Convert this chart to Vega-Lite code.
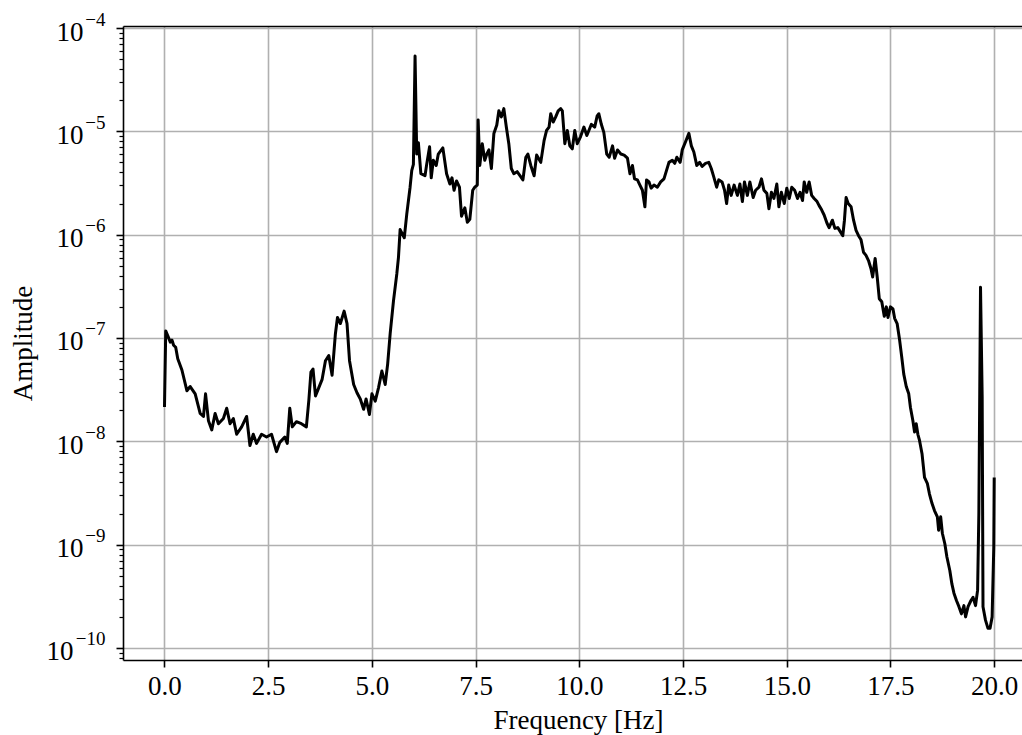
{
  "$schema": "https://vega.github.io/schema/vega-lite/v6.json",
  "width": 899,
  "height": 634,
  "autosize": {"type": "none"},
  "padding": {"left": 123, "top": 26, "right": 0, "bottom": 75},
  "background": "white",
  "config": {
    "view": {"stroke": null},
    "axis": {
      "labelFont": "Liberation Serif",
      "titleFont": "Liberation Serif",
      "labelColor": "black",
      "titleColor": "black",
      "domainColor": "black",
      "tickColor": "black",
      "titleFontWeight": "normal",
      "gridColor": "#b0b0b0",
      "gridWidth": 1.6,
      "gridOpacity": 1,
      "domainWidth": 1.6,
      "tickWidth": 1.6
    }
  },
  "data": {
    "values": [
      {"frequency": 0.00, "amplitude": 2.15e-8},
      {"frequency": 0.03, "amplitude": 1.17e-7},
      {"frequency": 0.08, "amplitude": 1.05e-7},
      {"frequency": 0.14, "amplitude": 9.12e-8},
      {"frequency": 0.18, "amplitude": 9.55e-8},
      {"frequency": 0.22, "amplitude": 8.51e-8},
      {"frequency": 0.27, "amplitude": 8.13e-8},
      {"frequency": 0.32, "amplitude": 6.31e-8},
      {"frequency": 0.42, "amplitude": 4.90e-8},
      {"frequency": 0.54, "amplitude": 3.09e-8},
      {"frequency": 0.62, "amplitude": 3.39e-8},
      {"frequency": 0.74, "amplitude": 2.88e-8},
      {"frequency": 0.86, "amplitude": 1.86e-8},
      {"frequency": 0.94, "amplitude": 1.74e-8},
      {"frequency": 0.99, "amplitude": 2.88e-8},
      {"frequency": 1.06, "amplitude": 1.58e-8},
      {"frequency": 1.14, "amplitude": 1.29e-8},
      {"frequency": 1.22, "amplitude": 1.86e-8},
      {"frequency": 1.30, "amplitude": 1.48e-8},
      {"frequency": 1.42, "amplitude": 1.66e-8},
      {"frequency": 1.50, "amplitude": 2.09e-8},
      {"frequency": 1.58, "amplitude": 1.48e-8},
      {"frequency": 1.66, "amplitude": 1.66e-8},
      {"frequency": 1.74, "amplitude": 1.17e-8},
      {"frequency": 1.86, "amplitude": 1.38e-8},
      {"frequency": 1.98, "amplitude": 1.74e-8},
      {"frequency": 2.06, "amplitude": 9.12e-9},
      {"frequency": 2.14, "amplitude": 1.17e-8},
      {"frequency": 2.22, "amplitude": 9.55e-9},
      {"frequency": 2.34, "amplitude": 1.17e-8},
      {"frequency": 2.46, "amplitude": 1.10e-8},
      {"frequency": 2.58, "amplitude": 1.17e-8},
      {"frequency": 2.70, "amplitude": 7.94e-9},
      {"frequency": 2.78, "amplitude": 9.77e-9},
      {"frequency": 2.90, "amplitude": 1.10e-8},
      {"frequency": 2.96, "amplitude": 9.55e-9},
      {"frequency": 3.02, "amplitude": 2.09e-8},
      {"frequency": 3.08, "amplitude": 1.38e-8},
      {"frequency": 3.18, "amplitude": 1.55e-8},
      {"frequency": 3.30, "amplitude": 1.48e-8},
      {"frequency": 3.42, "amplitude": 1.38e-8},
      {"frequency": 3.48, "amplitude": 2.51e-8},
      {"frequency": 3.53, "amplitude": 4.68e-8},
      {"frequency": 3.58, "amplitude": 5.01e-8},
      {"frequency": 3.64, "amplitude": 2.75e-8},
      {"frequency": 3.72, "amplitude": 3.31e-8},
      {"frequency": 3.80, "amplitude": 3.98e-8},
      {"frequency": 3.88, "amplitude": 6.03e-8},
      {"frequency": 3.96, "amplitude": 6.76e-8},
      {"frequency": 4.04, "amplitude": 4.37e-8},
      {"frequency": 4.12, "amplitude": 1.10e-7},
      {"frequency": 4.17, "amplitude": 1.58e-7},
      {"frequency": 4.24, "amplitude": 1.38e-7},
      {"frequency": 4.33, "amplitude": 1.82e-7},
      {"frequency": 4.40, "amplitude": 1.38e-7},
      {"frequency": 4.46, "amplitude": 6.03e-8},
      {"frequency": 4.56, "amplitude": 3.55e-8},
      {"frequency": 4.64, "amplitude": 2.95e-8},
      {"frequency": 4.72, "amplitude": 2.57e-8},
      {"frequency": 4.80, "amplitude": 2.04e-8},
      {"frequency": 4.86, "amplitude": 2.57e-8},
      {"frequency": 4.94, "amplitude": 1.82e-8},
      {"frequency": 5.00, "amplitude": 2.88e-8},
      {"frequency": 5.08, "amplitude": 2.45e-8},
      {"frequency": 5.16, "amplitude": 3.31e-8},
      {"frequency": 5.24, "amplitude": 4.79e-8},
      {"frequency": 5.32, "amplitude": 3.55e-8},
      {"frequency": 5.38, "amplitude": 5.62e-8},
      {"frequency": 5.44, "amplitude": 1.10e-7},
      {"frequency": 5.52, "amplitude": 2.29e-7},
      {"frequency": 5.60, "amplitude": 4.17e-7},
      {"frequency": 5.64, "amplitude": 6.03e-7},
      {"frequency": 5.68, "amplitude": 1.12e-6},
      {"frequency": 5.78, "amplitude": 9.33e-7},
      {"frequency": 5.84, "amplitude": 1.58e-6},
      {"frequency": 5.92, "amplitude": 2.88e-6},
      {"frequency": 5.96, "amplitude": 4.17e-6},
      {"frequency": 6.00, "amplitude": 4.79e-6},
      {"frequency": 6.04, "amplitude": 5.37e-5},
      {"frequency": 6.08, "amplitude": 6.03e-6},
      {"frequency": 6.12, "amplitude": 7.76e-6},
      {"frequency": 6.18, "amplitude": 3.89e-6},
      {"frequency": 6.28, "amplitude": 3.72e-6},
      {"frequency": 6.32, "amplitude": 4.79e-6},
      {"frequency": 6.39, "amplitude": 7.08e-6},
      {"frequency": 6.43, "amplitude": 3.55e-6},
      {"frequency": 6.48, "amplitude": 5.25e-6},
      {"frequency": 6.55, "amplitude": 4.68e-6},
      {"frequency": 6.60, "amplitude": 6.03e-6},
      {"frequency": 6.71, "amplitude": 6.92e-6},
      {"frequency": 6.80, "amplitude": 3.89e-6},
      {"frequency": 6.88, "amplitude": 3.09e-6},
      {"frequency": 6.93, "amplitude": 3.55e-6},
      {"frequency": 6.98, "amplitude": 2.69e-6},
      {"frequency": 7.04, "amplitude": 3.31e-6},
      {"frequency": 7.11, "amplitude": 2.88e-6},
      {"frequency": 7.16, "amplitude": 1.51e-6},
      {"frequency": 7.24, "amplitude": 1.82e-6},
      {"frequency": 7.30, "amplitude": 1.32e-6},
      {"frequency": 7.36, "amplitude": 1.41e-6},
      {"frequency": 7.43, "amplitude": 2.69e-6},
      {"frequency": 7.48, "amplitude": 2.88e-6},
      {"frequency": 7.54, "amplitude": 3.02e-6},
      {"frequency": 7.56, "amplitude": 1.29e-5},
      {"frequency": 7.60, "amplitude": 4.68e-6},
      {"frequency": 7.66, "amplitude": 7.59e-6},
      {"frequency": 7.72, "amplitude": 5.25e-6},
      {"frequency": 7.77, "amplitude": 6.03e-6},
      {"frequency": 7.82, "amplitude": 6.61e-6},
      {"frequency": 7.88, "amplitude": 4.37e-6},
      {"frequency": 7.94, "amplitude": 9.55e-6},
      {"frequency": 8.01, "amplitude": 1.15e-5},
      {"frequency": 8.06, "amplitude": 1.58e-5},
      {"frequency": 8.12, "amplitude": 1.38e-5},
      {"frequency": 8.18, "amplitude": 1.66e-5},
      {"frequency": 8.24, "amplitude": 1.10e-5},
      {"frequency": 8.30, "amplitude": 7.59e-6},
      {"frequency": 8.36, "amplitude": 4.37e-6},
      {"frequency": 8.42, "amplitude": 3.89e-6},
      {"frequency": 8.50, "amplitude": 4.07e-6},
      {"frequency": 8.59, "amplitude": 3.63e-6},
      {"frequency": 8.64, "amplitude": 3.39e-6},
      {"frequency": 8.71, "amplitude": 5.62e-6},
      {"frequency": 8.76, "amplitude": 6.03e-6},
      {"frequency": 8.83, "amplitude": 4.68e-6},
      {"frequency": 8.91, "amplitude": 3.72e-6},
      {"frequency": 8.97, "amplitude": 5.89e-6},
      {"frequency": 9.07, "amplitude": 5.01e-6},
      {"frequency": 9.15, "amplitude": 8.13e-6},
      {"frequency": 9.21, "amplitude": 1.02e-5},
      {"frequency": 9.27, "amplitude": 1.10e-5},
      {"frequency": 9.31, "amplitude": 1.48e-5},
      {"frequency": 9.37, "amplitude": 1.23e-5},
      {"frequency": 9.43, "amplitude": 1.38e-5},
      {"frequency": 9.49, "amplitude": 1.58e-5},
      {"frequency": 9.55, "amplitude": 1.66e-5},
      {"frequency": 9.59, "amplitude": 1.58e-5},
      {"frequency": 9.65, "amplitude": 7.59e-6},
      {"frequency": 9.71, "amplitude": 1.02e-5},
      {"frequency": 9.77, "amplitude": 7.24e-6},
      {"frequency": 9.83, "amplitude": 6.76e-6},
      {"frequency": 9.89, "amplitude": 1.02e-5},
      {"frequency": 9.95, "amplitude": 7.59e-6},
      {"frequency": 10.03, "amplitude": 8.91e-6},
      {"frequency": 10.11, "amplitude": 1.10e-5},
      {"frequency": 10.18, "amplitude": 9.12e-6},
      {"frequency": 10.23, "amplitude": 1.02e-5},
      {"frequency": 10.29, "amplitude": 1.17e-5},
      {"frequency": 10.37, "amplitude": 1.10e-5},
      {"frequency": 10.43, "amplitude": 1.41e-5},
      {"frequency": 10.47, "amplitude": 1.48e-5},
      {"frequency": 10.53, "amplitude": 1.17e-5},
      {"frequency": 10.59, "amplitude": 9.77e-6},
      {"frequency": 10.66, "amplitude": 6.03e-6},
      {"frequency": 10.72, "amplitude": 5.62e-6},
      {"frequency": 10.80, "amplitude": 7.24e-6},
      {"frequency": 10.85, "amplitude": 5.50e-6},
      {"frequency": 10.92, "amplitude": 6.61e-6},
      {"frequency": 11.00, "amplitude": 6.03e-6},
      {"frequency": 11.08, "amplitude": 5.89e-6},
      {"frequency": 11.16, "amplitude": 5.50e-6},
      {"frequency": 11.22, "amplitude": 3.89e-6},
      {"frequency": 11.28, "amplitude": 4.68e-6},
      {"frequency": 11.33, "amplitude": 3.47e-6},
      {"frequency": 11.40, "amplitude": 3.39e-6},
      {"frequency": 11.46, "amplitude": 3.02e-6},
      {"frequency": 11.52, "amplitude": 2.69e-6},
      {"frequency": 11.58, "amplitude": 1.86e-6},
      {"frequency": 11.62, "amplitude": 3.39e-6},
      {"frequency": 11.68, "amplitude": 3.24e-6},
      {"frequency": 11.73, "amplitude": 2.82e-6},
      {"frequency": 11.80, "amplitude": 3.02e-6},
      {"frequency": 11.88, "amplitude": 2.88e-6},
      {"frequency": 11.96, "amplitude": 3.24e-6},
      {"frequency": 12.04, "amplitude": 3.47e-6},
      {"frequency": 12.10, "amplitude": 4.17e-6},
      {"frequency": 12.16, "amplitude": 5.01e-6},
      {"frequency": 12.24, "amplitude": 5.25e-6},
      {"frequency": 12.30, "amplitude": 4.90e-6},
      {"frequency": 12.35, "amplitude": 5.62e-6},
      {"frequency": 12.43, "amplitude": 5.01e-6},
      {"frequency": 12.48, "amplitude": 6.61e-6},
      {"frequency": 12.56, "amplitude": 7.94e-6},
      {"frequency": 12.64, "amplitude": 9.55e-6},
      {"frequency": 12.70, "amplitude": 7.24e-6},
      {"frequency": 12.76, "amplitude": 6.31e-6},
      {"frequency": 12.83, "amplitude": 4.68e-6},
      {"frequency": 12.90, "amplitude": 5.01e-6},
      {"frequency": 12.96, "amplitude": 4.57e-6},
      {"frequency": 13.04, "amplitude": 4.90e-6},
      {"frequency": 13.12, "amplitude": 5.01e-6},
      {"frequency": 13.18, "amplitude": 4.37e-6},
      {"frequency": 13.24, "amplitude": 3.63e-6},
      {"frequency": 13.31, "amplitude": 2.88e-6},
      {"frequency": 13.36, "amplitude": 3.39e-6},
      {"frequency": 13.44, "amplitude": 3.24e-6},
      {"frequency": 13.50, "amplitude": 2.69e-6},
      {"frequency": 13.55, "amplitude": 2.00e-6},
      {"frequency": 13.60, "amplitude": 3.02e-6},
      {"frequency": 13.66, "amplitude": 2.40e-6},
      {"frequency": 13.73, "amplitude": 3.02e-6},
      {"frequency": 13.81, "amplitude": 2.40e-6},
      {"frequency": 13.87, "amplitude": 3.09e-6},
      {"frequency": 13.93, "amplitude": 2.09e-6},
      {"frequency": 13.98, "amplitude": 3.24e-6},
      {"frequency": 14.05, "amplitude": 2.40e-6},
      {"frequency": 14.11, "amplitude": 3.24e-6},
      {"frequency": 14.19, "amplitude": 2.29e-6},
      {"frequency": 14.25, "amplitude": 2.69e-6},
      {"frequency": 14.33, "amplitude": 2.88e-6},
      {"frequency": 14.39, "amplitude": 3.47e-6},
      {"frequency": 14.45, "amplitude": 2.69e-6},
      {"frequency": 14.52, "amplitude": 2.51e-6},
      {"frequency": 14.57, "amplitude": 1.78e-6},
      {"frequency": 14.63, "amplitude": 2.57e-6},
      {"frequency": 14.69, "amplitude": 2.24e-6},
      {"frequency": 14.76, "amplitude": 3.09e-6},
      {"frequency": 14.81, "amplitude": 1.86e-6},
      {"frequency": 14.87, "amplitude": 2.57e-6},
      {"frequency": 14.94, "amplitude": 2.00e-6},
      {"frequency": 15.00, "amplitude": 2.82e-6},
      {"frequency": 15.06, "amplitude": 2.24e-6},
      {"frequency": 15.12, "amplitude": 2.88e-6},
      {"frequency": 15.19, "amplitude": 2.69e-6},
      {"frequency": 15.26, "amplitude": 2.24e-6},
      {"frequency": 15.32, "amplitude": 2.57e-6},
      {"frequency": 15.38, "amplitude": 2.14e-6},
      {"frequency": 15.42, "amplitude": 3.24e-6},
      {"frequency": 15.48, "amplitude": 2.57e-6},
      {"frequency": 15.54, "amplitude": 3.24e-6},
      {"frequency": 15.60, "amplitude": 2.40e-6},
      {"frequency": 15.66, "amplitude": 2.24e-6},
      {"frequency": 15.73, "amplitude": 2.09e-6},
      {"frequency": 15.78, "amplitude": 1.91e-6},
      {"frequency": 15.84, "amplitude": 1.74e-6},
      {"frequency": 15.90, "amplitude": 1.55e-6},
      {"frequency": 15.97, "amplitude": 1.29e-6},
      {"frequency": 16.02, "amplitude": 1.17e-6},
      {"frequency": 16.10, "amplitude": 1.38e-6},
      {"frequency": 16.16, "amplitude": 1.15e-6},
      {"frequency": 16.23, "amplitude": 1.17e-6},
      {"frequency": 16.29, "amplitude": 1.07e-6},
      {"frequency": 16.35, "amplitude": 9.77e-7},
      {"frequency": 16.39, "amplitude": 1.38e-6},
      {"frequency": 16.43, "amplitude": 2.29e-6},
      {"frequency": 16.48, "amplitude": 2.00e-6},
      {"frequency": 16.55, "amplitude": 1.86e-6},
      {"frequency": 16.61, "amplitude": 1.38e-6},
      {"frequency": 16.67, "amplitude": 1.10e-6},
      {"frequency": 16.73, "amplitude": 9.77e-7},
      {"frequency": 16.79, "amplitude": 8.91e-7},
      {"frequency": 16.85, "amplitude": 6.76e-7},
      {"frequency": 16.91, "amplitude": 6.31e-7},
      {"frequency": 16.97, "amplitude": 5.62e-7},
      {"frequency": 17.03, "amplitude": 4.68e-7},
      {"frequency": 17.07, "amplitude": 3.89e-7},
      {"frequency": 17.13, "amplitude": 5.89e-7},
      {"frequency": 17.18, "amplitude": 3.89e-7},
      {"frequency": 17.23, "amplitude": 2.40e-7},
      {"frequency": 17.29, "amplitude": 2.24e-7},
      {"frequency": 17.35, "amplitude": 1.62e-7},
      {"frequency": 17.40, "amplitude": 2.00e-7},
      {"frequency": 17.44, "amplitude": 1.58e-7},
      {"frequency": 17.50, "amplitude": 2.00e-7},
      {"frequency": 17.56, "amplitude": 1.91e-7},
      {"frequency": 17.60, "amplitude": 1.55e-7},
      {"frequency": 17.66, "amplitude": 1.38e-7},
      {"frequency": 17.72, "amplitude": 9.55e-8},
      {"frequency": 17.77, "amplitude": 6.61e-8},
      {"frequency": 17.82, "amplitude": 4.47e-8},
      {"frequency": 17.88, "amplitude": 3.39e-8},
      {"frequency": 17.94, "amplitude": 2.88e-8},
      {"frequency": 17.98, "amplitude": 2.14e-8},
      {"frequency": 18.04, "amplitude": 1.58e-8},
      {"frequency": 18.08, "amplitude": 1.23e-8},
      {"frequency": 18.12, "amplitude": 1.48e-8},
      {"frequency": 18.16, "amplitude": 1.17e-8},
      {"frequency": 18.20, "amplitude": 1.02e-8},
      {"frequency": 18.26, "amplitude": 7.59e-9},
      {"frequency": 18.32, "amplitude": 4.47e-9},
      {"frequency": 18.39, "amplitude": 3.89e-9},
      {"frequency": 18.44, "amplitude": 3.09e-9},
      {"frequency": 18.50, "amplitude": 2.51e-9},
      {"frequency": 18.56, "amplitude": 2.14e-9},
      {"frequency": 18.63, "amplitude": 1.86e-9},
      {"frequency": 18.66, "amplitude": 1.38e-9},
      {"frequency": 18.71, "amplitude": 1.86e-9},
      {"frequency": 18.75, "amplitude": 1.29e-9},
      {"frequency": 18.81, "amplitude": 1.02e-9},
      {"frequency": 18.86, "amplitude": 7.59e-10},
      {"frequency": 18.93, "amplitude": 5.62e-10},
      {"frequency": 18.98, "amplitude": 4.17e-10},
      {"frequency": 19.03, "amplitude": 3.39e-10},
      {"frequency": 19.09, "amplitude": 2.88e-10},
      {"frequency": 19.15, "amplitude": 2.51e-10},
      {"frequency": 19.21, "amplitude": 2.14e-10},
      {"frequency": 19.27, "amplitude": 2.57e-10},
      {"frequency": 19.31, "amplitude": 2.00e-10},
      {"frequency": 19.37, "amplitude": 2.51e-10},
      {"frequency": 19.44, "amplitude": 2.88e-10},
      {"frequency": 19.49, "amplitude": 3.09e-10},
      {"frequency": 19.55, "amplitude": 2.57e-10},
      {"frequency": 19.60, "amplitude": 3.63e-10},
      {"frequency": 19.63, "amplitude": 2.00e-9},
      {"frequency": 19.67, "amplitude": 3.09e-7},
      {"frequency": 19.71, "amplitude": 2.69e-8},
      {"frequency": 19.73, "amplitude": 2.51e-10},
      {"frequency": 19.79, "amplitude": 1.86e-10},
      {"frequency": 19.85, "amplitude": 1.55e-10},
      {"frequency": 19.90, "amplitude": 1.55e-10},
      {"frequency": 19.95, "amplitude": 2.00e-10},
      {"frequency": 19.99, "amplitude": 9.55e-10},
      {"frequency": 20.00, "amplitude": 4.47e-9}
    ]
  },
  "layer": [
    {
      "mark": {"type": "line", "color": "black", "strokeWidth": 3, "strokeJoin": "round"},
      "encoding": {
        "x": {
          "field": "frequency",
          "type": "quantitative",
          "scale": {"domain": [-1, 20.67], "nice": false, "zero": false},
          "axis": {
            "values": [0, 2.5, 5, 7.5, 10, 12.5, 15, 17.5, 20],
            "format": ".1f",
            "labelFontSize": 27,
            "labelBaseline": "alphabetic",
            "labelPadding": 27,
            "labelFlush": false,
            "labelOverlap": false,
            "tickSize": 7,
            "grid": true,
            "title": "Frequency [Hz]",
            "titleFontSize": 27,
            "titleX": 455,
            "titleY": 68,
            "titleBaseline": "alphabetic",
            "titleAlign": "center"
          }
        },
        "y": {
          "field": "amplitude",
          "type": "quantitative",
          "scale": {"type": "log", "domain": [7.65e-11, 1.046e-4], "nice": false},
          "axis": {
            "orient": "left",
            "values": [1e-10, 1e-9, 1e-8, 1e-7, 1e-6, 1e-5, 1e-4],
            "labelExpr": "'10'",
            "labelFontSize": 27,
            "labelAlign": "right",
            "labelBaseline": "alphabetic",
            "labelOffset": 12,
            "labelPadding": {"condition": {"test": "datum.value < 5e-10", "value": 43}, "value": 33},
            "labelOverlap": false,
            "labelFlush": false,
            "labelBound": false,
            "tickSize": 7,
            "grid": true,
            "title": "Amplitude",
            "titleFontSize": 27,
            "titleX": -92,
            "titleY": 317,
            "titleAngle": 270,
            "titleBaseline": "alphabetic",
            "titleAlign": "center"
          }
        }
      }
    },
    {
      "mark": {"type": "line", "strokeOpacity": 0},
      "encoding": {
        "x": {"field": "frequency", "type": "quantitative", "axis": null},
        "y": {
          "field": "amplitude",
          "type": "quantitative",
          "axis": {
            "orient": "left",
            "values": [1e-10, 1e-9, 1e-8, 1e-7, 1e-6, 1e-5, 1e-4],
            "labelExpr": "'\u2212' + round(-log(datum.value) / LN10)",
            "labelFontSize": 19,
            "labelAlign": "right",
            "labelBaseline": "alphabetic",
            "labelOffset": -3,
            "labelPadding": 18,
            "labelOverlap": false,
            "labelFlush": false,
            "labelBound": false,
            "ticks": false,
            "tickSize": 0,
            "domain": false,
            "grid": false,
            "title": null
          }
        }
      }
    },
    {
      "mark": {"type": "line", "strokeOpacity": 0},
      "encoding": {
        "x": {
          "field": "frequency",
          "type": "quantitative",
          "axis": {"orient": "top", "domain": true, "ticks": false, "labels": false, "grid": false, "title": null}
        },
        "y": {
          "field": "amplitude",
          "type": "quantitative",
          "axis": {
            "orient": "left",
            "values": [8e-11, 9e-11,
              2e-10, 3e-10, 4e-10, 5e-10, 6e-10, 7e-10, 8e-10, 9e-10,
              2e-9, 3e-9, 4e-9, 5e-9, 6e-9, 7e-9, 8e-9, 9e-9,
              2e-8, 3e-8, 4e-8, 5e-8, 6e-8, 7e-8, 8e-8, 9e-8,
              2e-7, 3e-7, 4e-7, 5e-7, 6e-7, 7e-7, 8e-7, 9e-7,
              2e-6, 3e-6, 4e-6, 5e-6, 6e-6, 7e-6, 8e-6, 9e-6,
              2e-5, 3e-5, 4e-5, 5e-5, 6e-5, 7e-5, 8e-5, 9e-5],
            "labels": false,
            "domain": false,
            "grid": false,
            "tickSize": 4,
            "tickWidth": 1.2,
            "title": null
          }
        }
      }
    }
  ],
  "resolve": {"axis": {"x": "independent", "y": "independent"}}
}
